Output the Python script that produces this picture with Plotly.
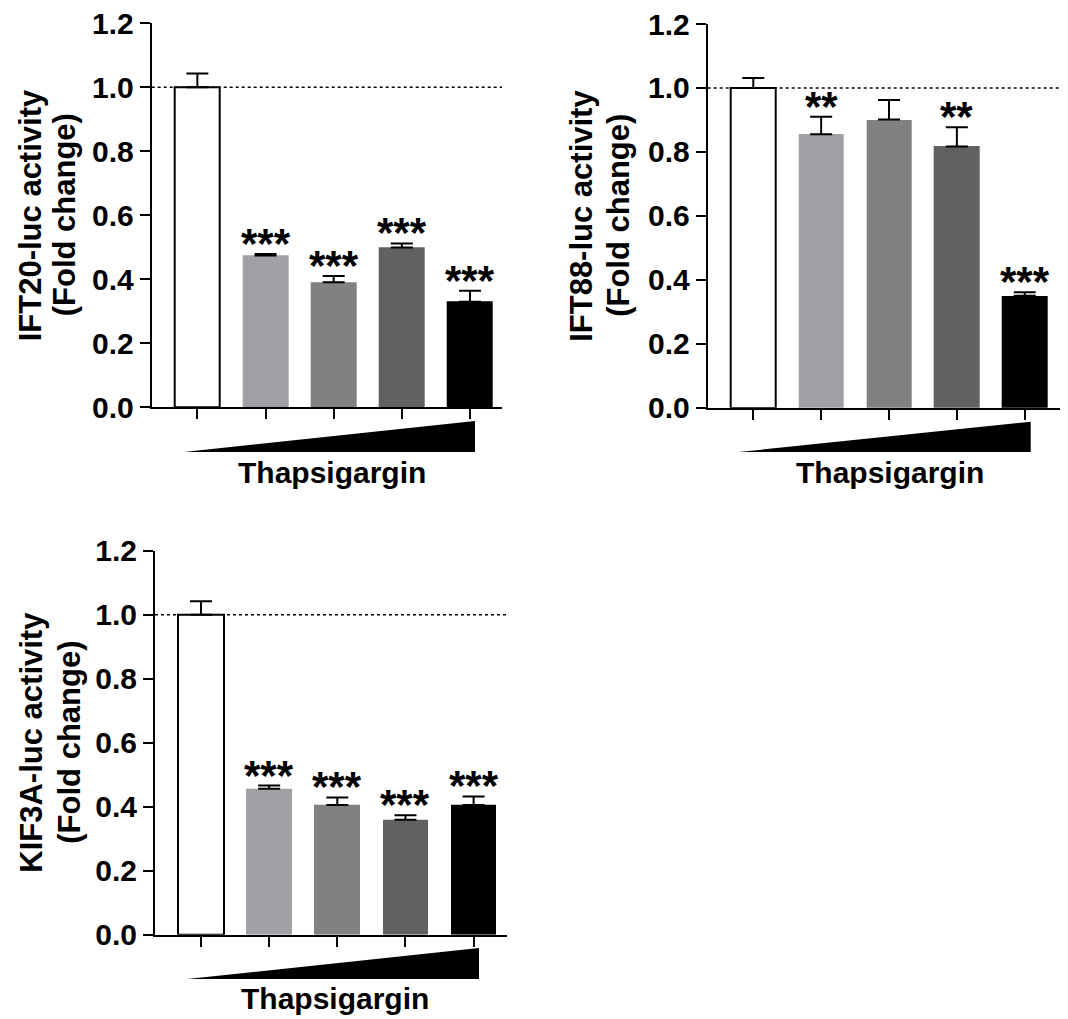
import plotly.graph_objects as go

W, H = 1068, 1019
OFF = 8  # page body margin in front of the figure

groups = ["Control", "Dose 1", "Dose 2", "Dose 3", "Dose 4"]
bar_colors = ["#FFFFFF", "#A1A1A5", "#818181", "#616161", "#000000"]
y_ticks = [0.0, 0.2, 0.4, 0.6, 0.8, 1.0, 1.2]
y_ticklabels = ["0.0", "0.2", "0.4", "0.6", "0.8", "1.0", "1.2"]

ift20_mean = [1.0, 0.474, 0.391, 0.499, 0.330]
ift20_err = [0.043, 0.005, 0.019, 0.013, 0.034]
ift20_sig = ["", "***", "***", "***", "***"]

ift88_mean = [1.0, 0.855, 0.901, 0.817, 0.350]
ift88_err = [0.031, 0.055, 0.061, 0.060, 0.011]
ift88_sig = ["", "**", "", "**", "***"]

kif3a_mean = [1.0, 0.456, 0.405, 0.359, 0.405]
kif3a_err = [0.042, 0.010, 0.024, 0.014, 0.027]
kif3a_sig = ["", "***", "***", "***", "***"]

xlabel = "Thapsigargin"
ylabel_line1 = ["IFT20-luc activity", "IFT88-luc activity", "KIF3A-luc activity"]
ylabel_line2 = ["(Fold change)", "(Fold change)", "(Fold change)"]

FONT = "Arial, Liberation Sans, sans-serif"


def px(sx):
    return (sx - OFF) / W


def py(sy):
    return 1 - (sy - OFF) / H


# screen-pixel geometry of each panel
panels = [
    dict(mean=ift20_mean, err=ift20_err, sig=ift20_sig,
         xl=151.7, xr=502, yt=23.3, yb=407.3, xrange=[-0.67, 4.47],
         title_x=(30, 64), tri=(184, 475, 421, 452), lab=(331.7, 472)),
    dict(mean=ift88_mean, err=ift88_err, sig=ift88_sig,
         xl=707.7, xr=1060, yt=24.0, yb=407.7, xrange=[-0.672, 4.52],
         title_x=(582, 619), tri=(739, 1030.7, 421.7, 452), lab=(890, 472)),
    dict(mean=kif3a_mean, err=kif3a_err, sig=kif3a_sig,
         xl=155, xr=507, yt=550.7, yb=934.7, xrange=[-0.675, 4.49],
         title_x=(32, 70), tri=(187.3, 479, 948, 979), lab=(335.3, 998)),
]

fig = go.Figure()
shapes = []
annotations = []
xs = list(range(len(groups)))

for k, p in enumerate(panels):
    sfx = "" if k == 0 else str(k + 1)
    xa, ya = "x" + sfx, "y" + sfx
    line_w = [2, 0, 0, 0, 0]
    fig.add_trace(go.Bar(
        x=xs, y=p["mean"], xaxis=xa, yaxis=ya, width=0.67,
        marker=dict(color=bar_colors, line=dict(color="black", width=line_w)),
        error_y=dict(type="data", array=p["err"], arrayminus=[0] * 5,
                     symmetric=False, color="black", thickness=2, width=11),
        showlegend=False, hoverinfo="skip",
    ))
    layout_x = dict(
        domain=[px(p["xl"]), px(p["xr"])], range=p["xrange"], anchor=ya,
        showline=True, linecolor="black", linewidth=2, ticks="outside",
        ticklen=10, tickwidth=2, tickcolor="black", tickvals=xs,
        showticklabels=False, showgrid=False, zeroline=False, fixedrange=True,
        automargin=False,
    )
    layout_y = dict(
        domain=[py(p["yb"]), py(p["yt"])], range=[0, 1.2], anchor=xa,
        showline=True, linecolor="black", linewidth=2, ticks="outside",
        ticklen=10, tickwidth=2, tickcolor="black", tickvals=y_ticks,
        ticktext=y_ticklabels, showgrid=False, zeroline=False,
        tickfont=dict(family=FONT, size=30, color="black", weight="bold"),
        ticklabeloverflow="allow",
        fixedrange=True, automargin=False,
    )
    fig.update_layout(**{"xaxis" + sfx: layout_x, "yaxis" + sfx: layout_y})

    # dotted reference line at 1.0
    shapes.append(dict(type="line", xref=xa + " domain", yref=ya,
                       x0=0, x1=1, y0=1.0, y1=1.0, layer="below",
                       line=dict(color="black", width=1.5, dash="dot")))
    # dose wedge
    x0, x1, yt, yb = p["tri"]
    path = "M {a},{b} L {c},{b} L {c},{d} Z".format(
        a=px(x0), b=py(yb), c=px(x1), d=py(yt))
    shapes.append(dict(type="path", xref="paper", yref="paper", path=path,
                       fillcolor="black", line=dict(width=0)))
    # x label
    annotations.append(dict(text=xlabel, xref="paper", yref="paper",
                            x=px(p["lab"][0]), y=py(p["lab"][1]),
                            xanchor="center", yanchor="middle", showarrow=False,
                            font=dict(family=FONT, size=30, color="black", weight="bold")))
    # y title (two lines)
    ymid = py((p["yt"] + p["yb"]) / 2)
    for txt, tx in zip((ylabel_line1[k], ylabel_line2[k]), p["title_x"]):
        annotations.append(dict(text=txt, xref="paper", yref="paper",
                                x=px(tx), y=ymid,
                                xanchor="center", yanchor="middle", textangle=-90,
                                showarrow=False,
                                font=dict(family=FONT, size=31, color="black", weight="bold")))
    # significance stars
    for i, s in enumerate(p["sig"]):
        if s:
            annotations.append(dict(text=s, xref=xa, yref=ya, x=i,
                                    y=p["mean"][i] + p["err"][i],
                                    xanchor="center", yanchor="bottom",
                                    yshift=-15, showarrow=False,
                                    font=dict(family=FONT, size=42, color="black", weight="bold")))

fig.update_layout(
    width=W, height=H, margin=dict(l=0, r=0, t=0, b=0, pad=0, autoexpand=False),
    paper_bgcolor="white", plot_bgcolor="white",
    shapes=shapes, annotations=annotations, bargap=0,
)

fig.write_html("out.html")
